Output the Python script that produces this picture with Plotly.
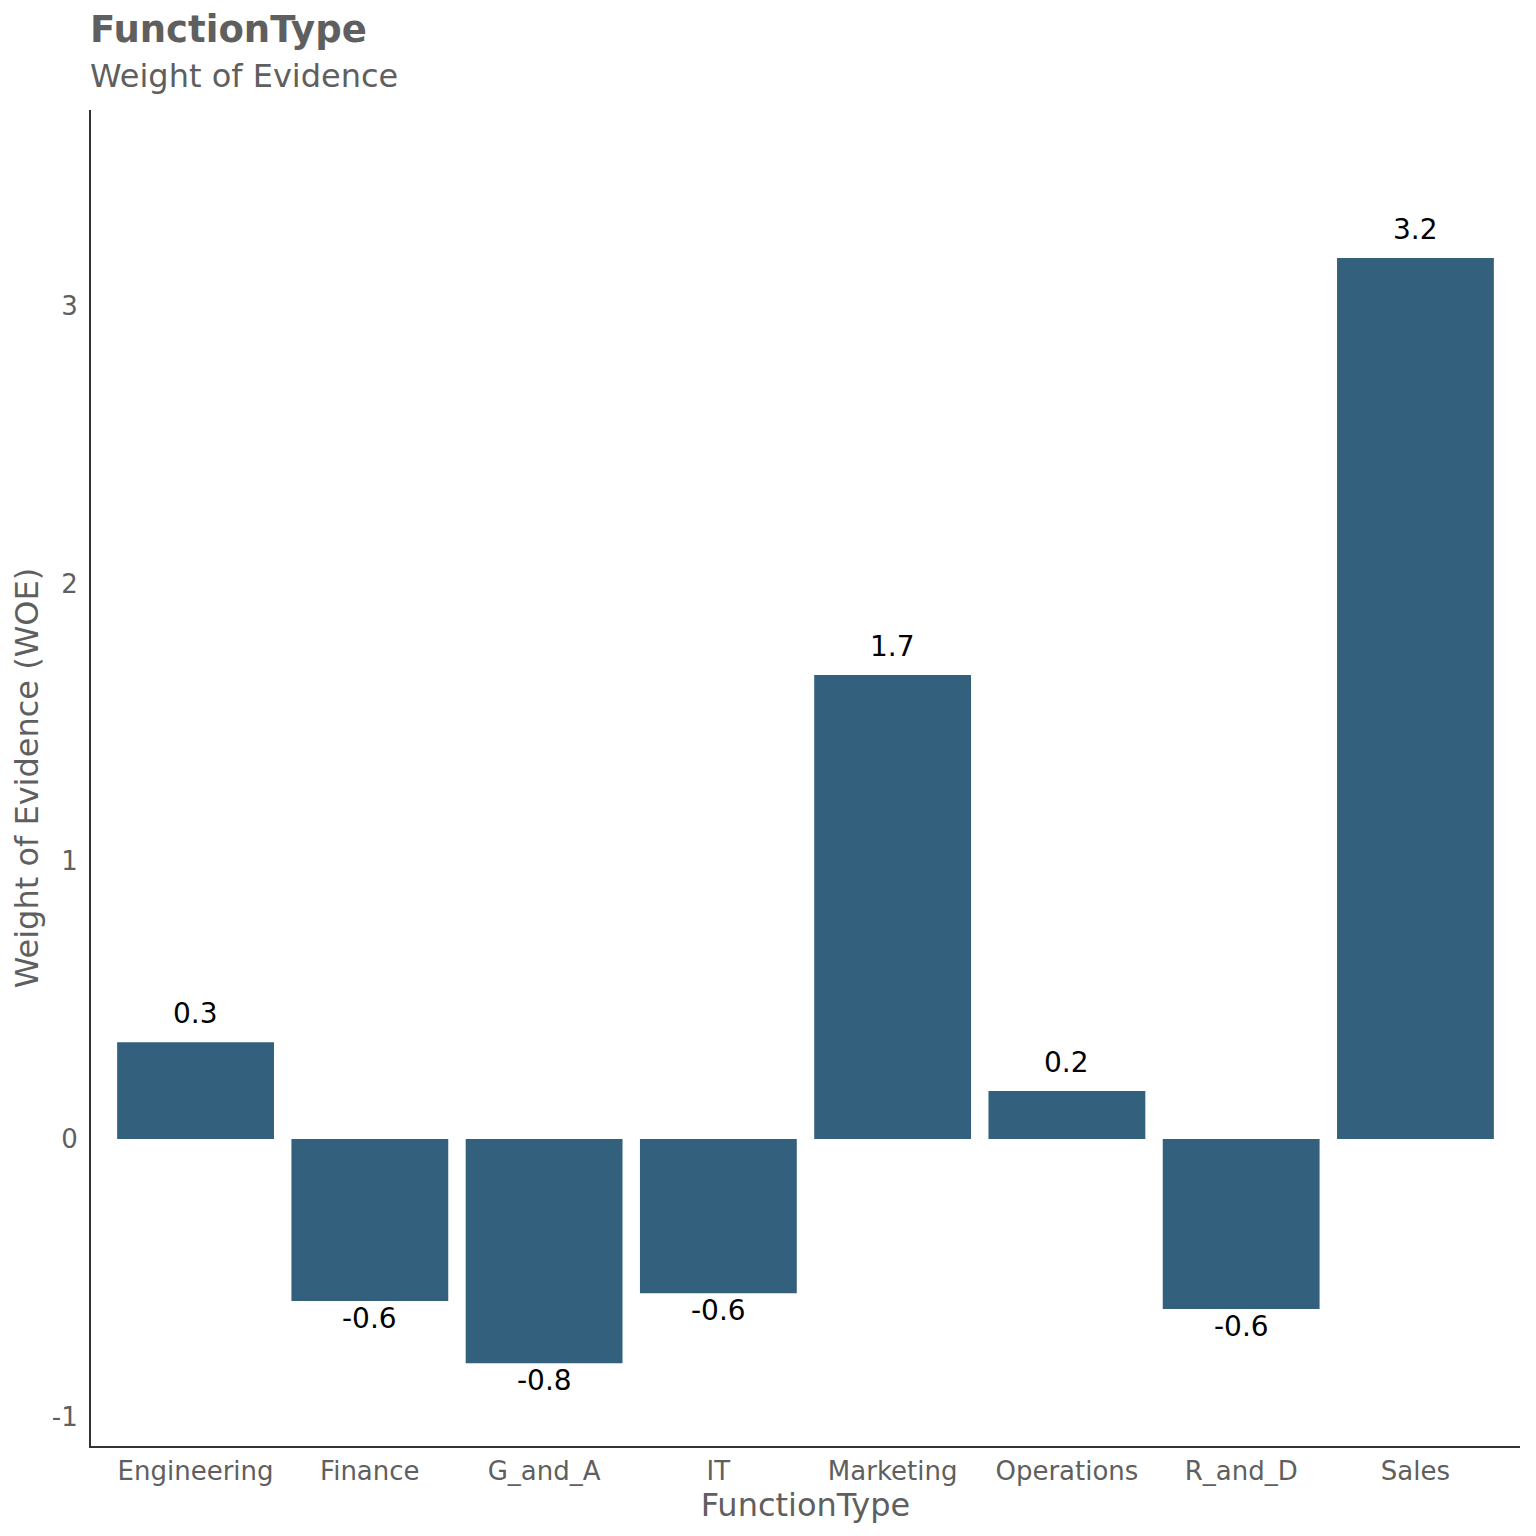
import plotly.graph_objects as go

categories = ["Engineering", "Finance", "G_and_A", "IT", "Marketing", "Operations", "R_and_D", "Sales"]
woe_values = [0.349, -0.583, -0.807, -0.555, 1.671, 0.173, -0.612, 3.172]
y_tick_vals = [-1, 0, 1, 2, 3]
y_tick_text = ["-1", "0", "1", "2", "3"]

BAR_COLOR = "#33607D"
GREY = "#5f5f5f"
FONT = "DejaVu Sans"

fig = go.Figure()
fig.add_trace(go.Bar(
    x=categories, y=woe_values, marker=dict(color=BAR_COLOR, line=dict(width=0)),
    width=0.9, showlegend=False, hoverinfo="x+y",
))

for c, v in zip(categories, woe_values):
    fig.add_annotation(
        x=c, y=v, text=f"{v:.1f}", showarrow=False,
        yanchor="bottom" if v >= 0 else "top",
        yshift=10 if v >= 0 else 1,
        font=dict(family=FONT, size=28, color="black"),
    )

PLOT_H = 1336
fig.add_annotation(xref="paper", yref="paper", x=0, y=(1446 - 30) / PLOT_H,
                   xanchor="left", yanchor="middle", xshift=-3,
                   text="<b>FunctionType</b>", showarrow=False, font=dict(family=FONT, size=37, color=GREY))
fig.add_annotation(xref="paper", yref="paper", x=0, y=(1446 - 76) / PLOT_H,
                   xanchor="left", yanchor="middle", xshift=-3,
                   text="Weight of Evidence", showarrow=False, font=dict(family=FONT, size=32, color=GREY))

fig.update_layout(
    width=1520, height=1520,
    margin=dict(l=83, r=8, t=102, b=82, pad=0),
    paper_bgcolor="white", plot_bgcolor="white",
    font=dict(family=FONT, color=GREY),
    bargap=0.1,
    xaxis=dict(
        range=[-0.6, 7.6], showgrid=False, zeroline=False,
        showline=True, linecolor="#333333", linewidth=2,
        ticks="outside", ticklen=1, tickcolor="rgba(0,0,0,0)",
        tickfont=dict(family=FONT, size=26, color=GREY),
        title=dict(text="FunctionType", font=dict(family=FONT, size=32, color=GREY), standoff=1),
    ),
    yaxis=dict(
        range=[-1.105, 3.705], showgrid=False, zeroline=False,
        showline=True, linecolor="#333333", linewidth=2,
        tickvals=y_tick_vals, ticktext=y_tick_text,
        ticks="outside", ticklen=6, tickcolor="rgba(0,0,0,0)",
        tickfont=dict(family=FONT, size=26, color=GREY),
        title=dict(text="Weight of Evidence (WOE)", font=dict(family=FONT, size=32, color=GREY), standoff=8),
    ),
)

fig.write_html("out.html")
